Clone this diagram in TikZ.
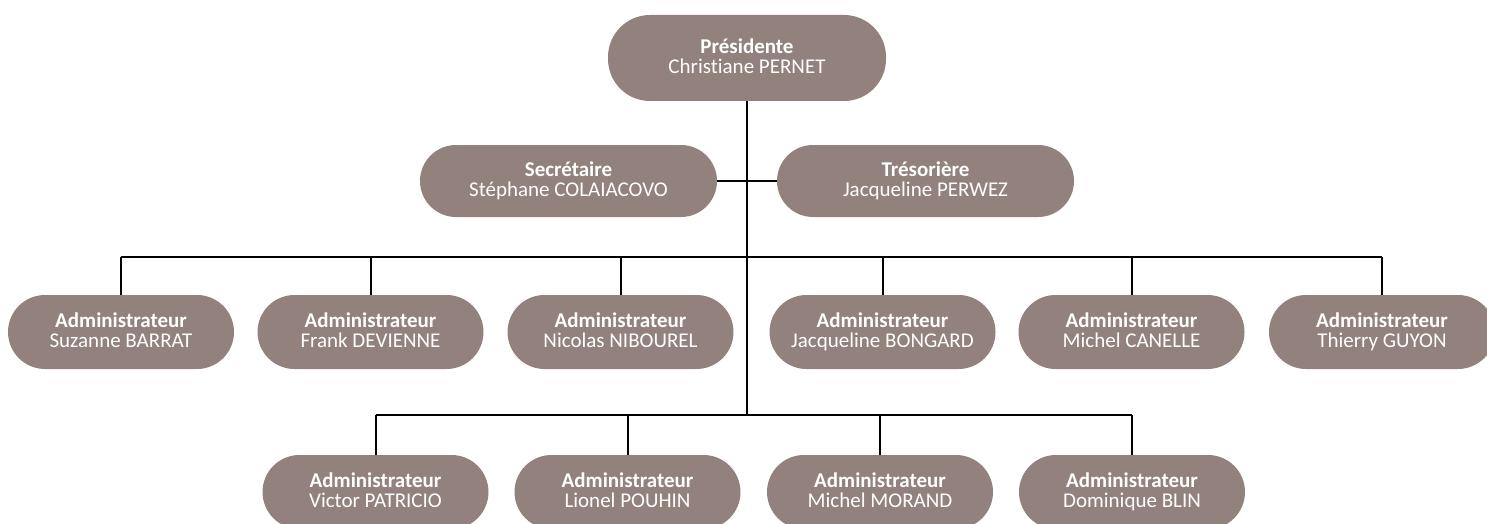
\documentclass[tikz,border=0pt]{standalone}
\usepackage{fontspec}
\setmainfont{Carlito}[Ligatures=NoCommon]
\definecolor{boxfill}{RGB}{146,129,124}
\newcommand{\orgtext}[2]{\textbf{#1}\\#2\vphantom{Jgy}}
\begin{document}
\begin{tikzpicture}[x=1pt,y=-1pt,
  pill/.style={draw=none, fill=boxfill, text=white, align=center,
    minimum width=226pt, minimum height=74pt, rounded corners=37pt,
    inner sep=0pt, font=\fontsize{21}{20.5}\selectfont},
  wide/.style={minimum width=297pt, minimum height=72pt, rounded corners=36pt},
  top/.style={minimum width=278pt, minimum height=86pt, rounded corners=42pt},
  link/.style={line width=2pt, draw=black}]
\useasboundingbox (0,0) rectangle (1487,524);
% nodes
\node[pill,top] (pres) at (747,58) {\orgtext{Présidente}{Christiane PERNET}};
\node[pill,wide] (sec) at (568.5,181) {\orgtext{Secrétaire}{Stéphane COLAIACOVO}};
\node[pill,wide] (tres) at (925.5,181) {\orgtext{Trésorière}{Jacqueline PERWEZ}};
\node[pill] (a1) at (121,332) {\orgtext{Administrateur}{Suzanne BARRAT}};
\node[pill] (a2) at (370.5,332) {\orgtext{Administrateur}{Frank DEVIENNE}};
\node[pill] (a3) at (620.5,332) {\orgtext{Administrateur}{Nicolas NIBOUREL}};
\node[pill] (a4) at (882.5,332) {\orgtext{Administrateur}{Jacqueline BONGARD}};
\node[pill] (a5) at (1131.5,332) {\orgtext{Administrateur}{Michel CANELLE}};
\node[pill] (a6) at (1382,332) {\orgtext{Administrateur}{Thierry GUYON}};
\node[pill] (b1) at (375.5,492) {\orgtext{Administrateur}{Victor PATRICIO}};
\node[pill] (b2) at (627.5,492) {\orgtext{Administrateur}{Lionel POUHIN}};
\node[pill] (b3) at (880,492) {\orgtext{Administrateur}{Michel MORAND}};
\node[pill] (b4) at (1132,492) {\orgtext{Administrateur}{Dominique BLIN}};
% bus coordinates
\coordinate (bus1) at (747,257);
\coordinate (bus2) at (747,415);
% connectors
\draw[link] (pres.south) -- (bus2);
\draw[link] (sec.east) -- (tres.west);
\draw[link] (a1.north |- bus1) -- (a6.north |- bus1);
\foreach \n in {a1,a2,a3,a4,a5,a6}
  \draw[link] (\n.north) -- (\n.north |- bus1);
\draw[link] (b1.north |- bus2) -- (b4.north |- bus2);
\foreach \n in {b1,b2,b3,b4}
  \draw[link] (\n.north) -- (\n.north |- bus2);
\end{tikzpicture}
\end{document}
